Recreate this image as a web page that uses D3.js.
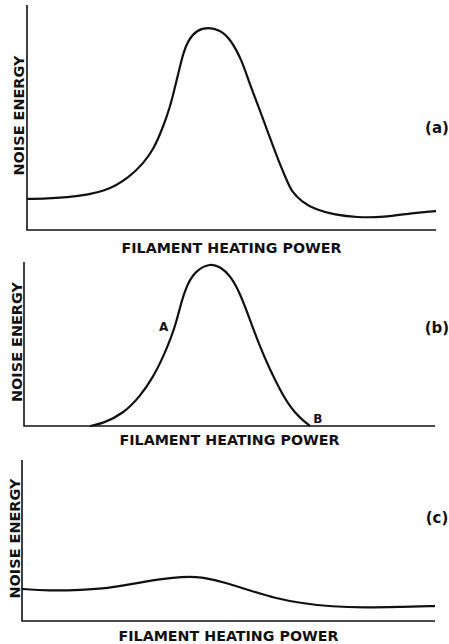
<!DOCTYPE html>
<head>
    <script src="https://cdn.jsdelivr.net/npm/d3@7"></script>
    <style>
        body { margin: 0; background: #fff; }
        text { font-family: "DejaVu Sans", sans-serif; font-weight: bold; fill: #111; }
    </style>
</head>
<body>
<svg width="449" height="644"></svg>
<script type="text/javascript">
    // values, x = heating power, y = noise energy (0-100 of each panel)
    var powerA = [0, 9.8, 19.6, 25.2, 28.4, 30.9, 33.3, 35.0, 36.2, 37.4, 38.2, 39.4, 41.5, 44.3,
        47.2, 49.6, 52.5, 54.1, 56.6, 59.0, 61.4, 63.5, 64.7, 67.2, 70.4, 75.3, 80.7, 87.0, 94.4, 100];
    var noiseA = [13.8, 14.2, 17.0, 23.7, 29.6, 35.6, 45.9, 54.8, 63.7, 72.6, 78.5, 84.4, 88.9, 90.1,
        88.9, 85.2, 75.6, 66.7, 54.8, 43.0, 31.1, 22.2, 17.0, 12.6, 9.2, 6.7, 5.6, 5.6, 7.6, 8.4];

    var powerB = [16.1, 19.3, 24.2, 28.2, 31.5, 33.9, 35.9, 37.2, 38.4, 40.0, 42.0, 45.3, 47.7, 50.1,
        52.6, 55.0, 57.4, 59.9, 62.3, 64.7, 67.2, 69.6];
    var noiseB = [0, 1.6, 7.7, 17.9, 30.1, 42.3, 54.5, 64.6, 76.8, 88.0, 95.1, 99.2, 97.1, 92.1,
        80.9, 64.6, 48.4, 34.1, 22.0, 11.8, 4.7, 0];

    var powerC = [0, 6.3, 14.5, 20.9, 26.6, 33.0, 38.7, 43.5, 48.4, 54.8, 61.3, 67.7, 75.0, 83.1, 91.1, 100];
    var noiseC = [19.9, 18.8, 19.3, 20.3, 23.0, 25.9, 27.5, 27.5, 24.4, 19.3, 14.1, 11.0, 8.9, 8.3, 8.7, 9.3];

    var xTitle = "FILAMENT HEATING POWER",
        yTitle = "NOISE ENERGY";
    var tags = ["(a)", "(b)", "(c)"];
    // point labels on curve (b): [text, power, noise]
    var marksB = [["A", 34.0, 58], ["B", 71.5, 2]];

    var svg = d3.select("svg");

    var panels = [
        {x: powerA, y: noiseA, left: 27, right: 436, top: 5, bottom: 230, tagY: 133, xlab: 253, ylab: 24},
        {x: powerB, y: noiseB, left: 24, right: 435, top: 262, bottom: 426, tagY: 333, xlab: 445, ylab: 22},
        {x: powerC, y: noiseC, left: 22, right: 435, top: 460, bottom: 621, tagY: 523, xlab: 641, ylab: 20}
    ];

    panels.forEach(function (p, i) {
        var xScale = d3.scaleLinear().domain([0, 100]).range([p.left, p.right]);
        var yScale = d3.scaleLinear().domain([0, 100]).range([p.bottom, p.top]);
        var g = svg.append("g");

        // axes: plain lines, no ticks
        g.append("path")
            .attr("d", "M" + xScale(0) + "," + yScale(100) + "V" + yScale(0) + "H" + xScale(100))
            .attr("fill", "none")
            .attr("stroke", "#111")
            .attr("stroke-width", 1.6);

        var line = d3.line()
            .x(function (d, j) { return xScale(p.x[j]); })
            .y(function (d) { return yScale(d); })
            .curve(d3.curveBasis);

        g.append("path")
            .attr("d", line(p.y))
            .attr("fill", "none")
            .attr("stroke", "#111")
            .attr("stroke-width", 2.2)
            .attr("stroke-linejoin", "round");

        g.append("text")
            .text(xTitle)
            .attr("x", (xScale(0) + xScale(100)) / 2)
            .attr("y", p.xlab)
            .attr("text-anchor", "middle")
            .attr("font-size", 14.5)
            .attr("textLength", 220)
            .attr("lengthAdjust", "spacingAndGlyphs");

        g.append("text")
            .text(yTitle)
            .attr("transform", "translate(" + p.ylab + "," + ((yScale(0) + yScale(100)) / 2 - 2) + ") rotate(-90)")
            .attr("text-anchor", "middle")
            .attr("font-size", 14)
            .attr("textLength", 120)
            .attr("lengthAdjust", "spacingAndGlyphs");

        g.append("text")
            .text(tags[i])
            .attr("x", 437)
            .attr("y", p.tagY)
            .attr("text-anchor", "middle")
            .attr("font-size", 15);

        if (i === 1) {
            g.selectAll(".mark")
                .data(marksB)
                .enter()
                .append("text")
                .text(function (d) { return d[0]; })
                .attr("x", function (d) { return xScale(d[1]); })
                .attr("y", function (d) { return yScale(d[2]); })
                .attr("text-anchor", "middle")
                .attr("font-size", 12);
        }
    });
</script>
</body>
</html>
